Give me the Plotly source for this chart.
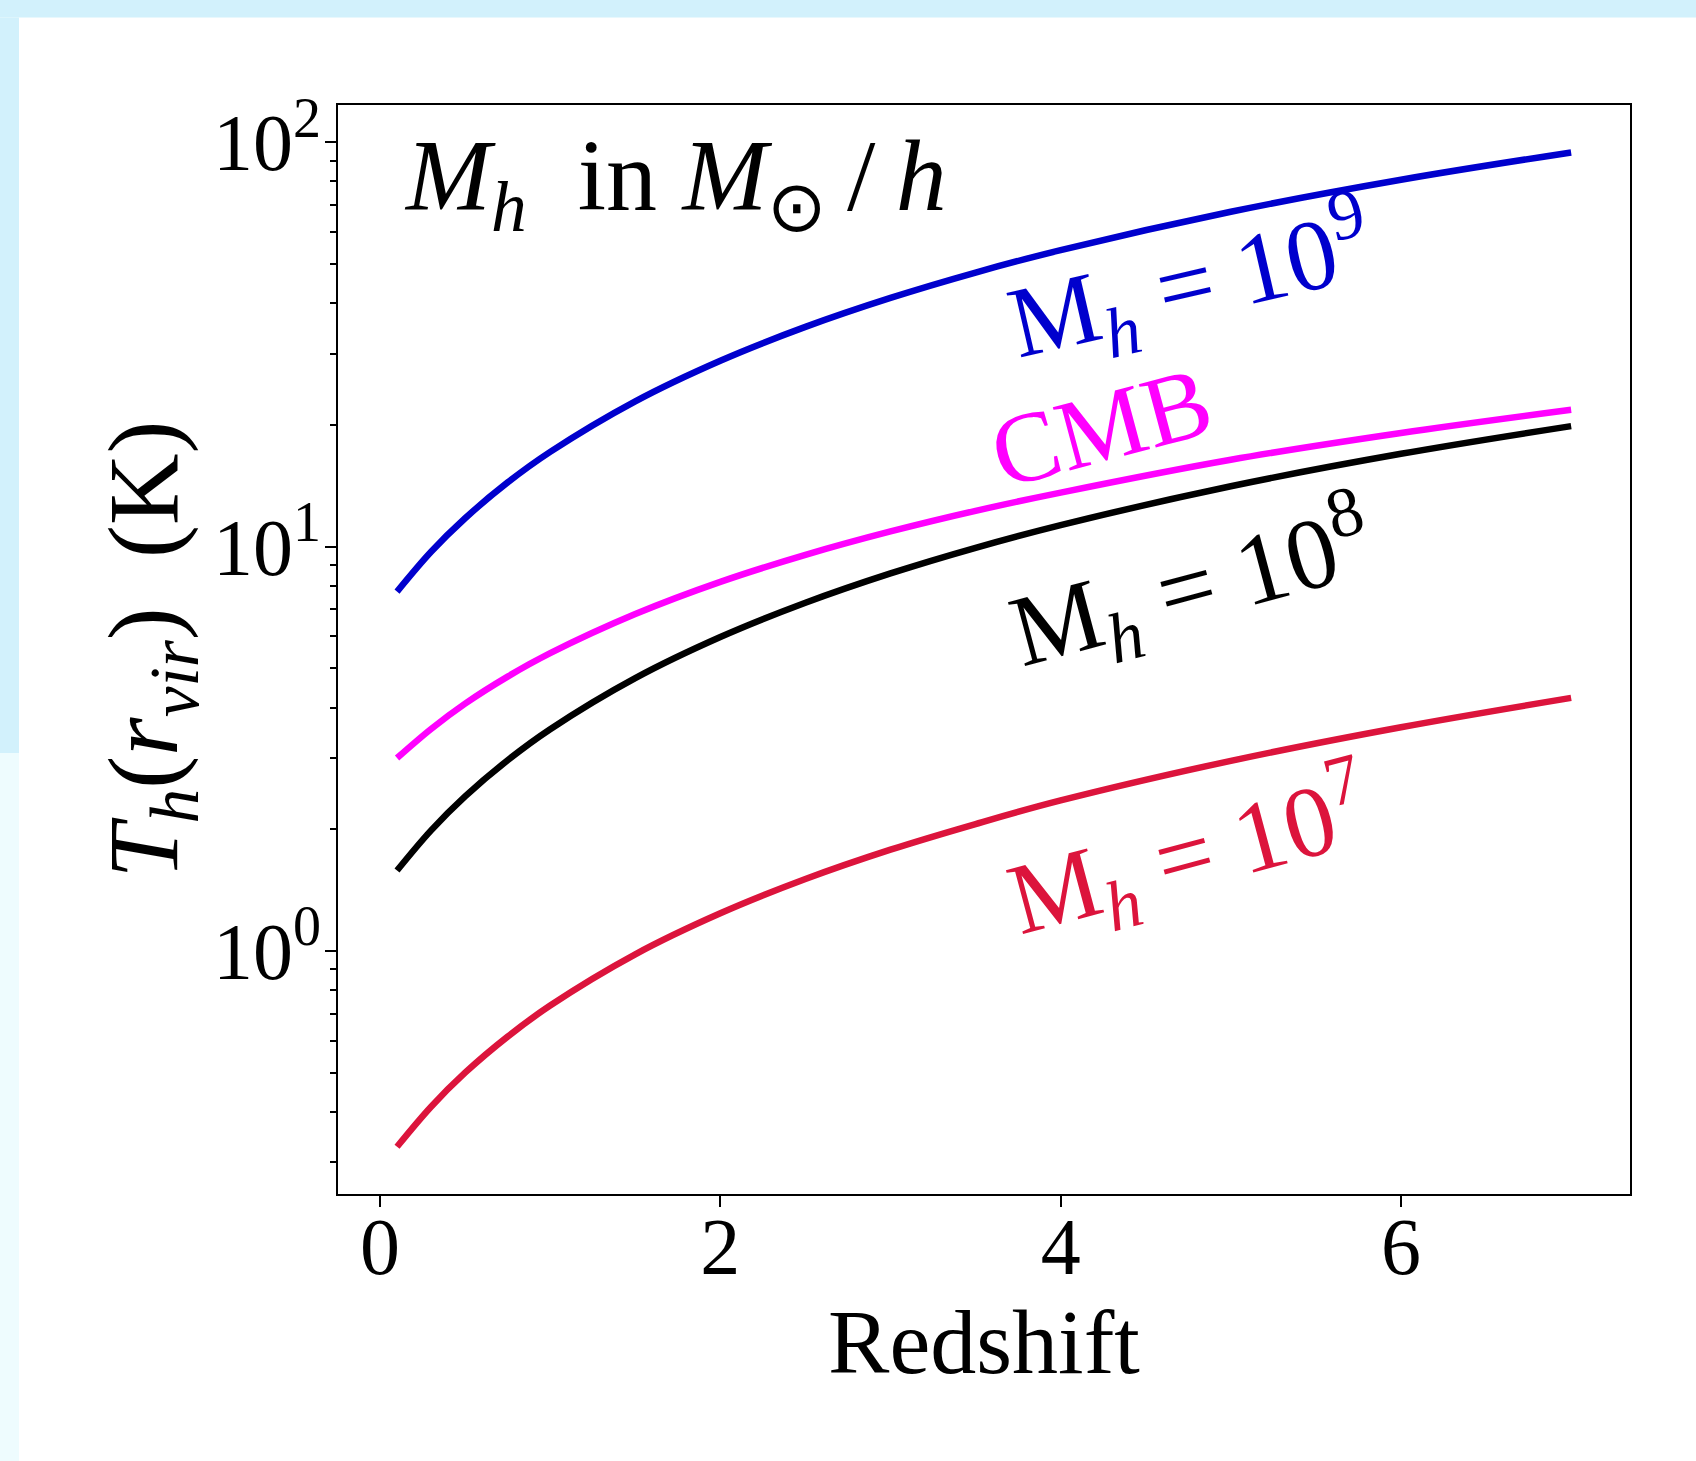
import plotly.graph_objects as go

# ---- data ----
redshift = [0.1, 0.3, 0.5, 0.75, 1.0, 1.5, 2.0, 2.5, 3.0, 3.5, 4.0, 5.0, 6.0, 7.0]
T_1e9 = [7.74, 9.71, 11.75, 14.41, 17.15, 22.87, 28.82, 34.94, 41.21, 47.61, 54.09, 67.30, 80.75, 94.35]
T_cmb = [3.0, 3.54, 4.09, 4.77, 5.45, 6.81, 8.18, 9.54, 10.9, 12.26, 13.6, 16.4, 19.1, 21.8]
T_1e8 = [1.581, 1.987, 2.411, 2.962, 3.534, 4.727, 5.973, 7.260, 8.581, 9.929, 11.30, 14.10, 16.96, 19.86]
T_1e7 = [0.328, 0.412, 0.500, 0.614, 0.733, 0.981, 1.239, 1.506, 1.780, 2.060, 2.356, 2.952, 3.575, 4.225]

x_ticks = [0, 2, 4, 6]
y_ticks = [1, 10, 100]
y_ticktext = ["10<sup>0</sup>", "10<sup>1</sup>", "10<sup>2</sup>"]
y_minor = [0.3, 0.4, 0.5, 0.6, 0.7, 0.8, 0.9,
           2, 3, 4, 5, 6, 7, 8, 9,
           20, 30, 40, 50, 60, 70, 80, 90]

W, H = 1696, 1461
ML, MR, MT, MB = 338, 66, 105, 267
PW, PH = W - ML - MR, H - MT - MB


def px(xp):
    return (xp - ML) / PW


def py(yp):
    return (H - MB - yp) / PH


FONT = "Liberation Serif, Times New Roman, serif"
NB = "\u00a0"
TH = "\u2009"

fig = go.Figure()
series = [
    (T_1e9, "#0000CD"),
    (T_cmb, "#FF00FF"),
    (T_1e8, "#000000"),
    (T_1e7, "#DC143C"),
]
for vals, col in series:
    fig.add_trace(go.Scatter(x=redshift, y=vals, mode="lines",
                             line=dict(color=col, width=6.5, shape="spline", smoothing=1.0),
                             showlegend=False, hoverinfo="skip"))

lab = "M<sub><i>h</i></sub>" + NB + "=" + NB + "10<sup>{}</sup>"
annotations = [
    dict(text="<i>M</i><sub><i>h</i></sub>" + NB + " in <i>M</i><sub>⊙</sub>" + TH + "/" + TH + "<i>h</i>",
         x=px(402), y=py(183), xanchor="left", yanchor="middle",
         font=dict(size=102, color="black"), textangle=0),
    dict(text=lab.format(9), x=px(1190), y=py(283),
         font=dict(size=101, color="#0000CD"), textangle=-13),
    dict(text="CMB", x=px(1101), y=py(427),
         font=dict(size=100, color="#FF00FF"), textangle=-15),
    dict(text=lab.format(8), x=px(1191), y=py(586),
         font=dict(size=101, color="#000000"), textangle=-15),
    dict(text=lab.format(7), x=px(1189), y=py(854),
         font=dict(size=101, color="#DC143C"), textangle=-15),
]
for a in annotations:
    a.update(xref="paper", yref="paper", showarrow=False)
    a.setdefault("xanchor", "center")
    a.setdefault("yanchor", "middle")
    a["font"]["family"] = FONT

shapes = [
    dict(type="rect", xref="paper", yref="paper", x0=px(0), x1=px(W), y0=py(17.5), y1=py(0),
         fillcolor="#D2F1FC", line=dict(width=0), layer="below"),
    dict(type="rect", xref="paper", yref="paper", x0=px(0), x1=px(19), y0=py(753), y1=py(17.5),
         fillcolor="#D2F1FC", line=dict(width=0), layer="below"),
    dict(type="rect", xref="paper", yref="paper", x0=px(0), x1=px(19), y0=py(H), y1=py(753),
         fillcolor="#EEFCFE", line=dict(width=0), layer="below"),
]

fig.update_layout(
    width=W, height=H,
    margin=dict(l=ML, r=MR, t=MT, b=MB, autoexpand=False),
    paper_bgcolor="white", plot_bgcolor="white",
    font=dict(family=FONT, color="black"),
    annotations=annotations, shapes=shapes,
)
fig.update_xaxes(
    range=[-0.247, 7.346], tickvals=x_ticks, ticks="outside", ticklen=11, tickwidth=1.5,
    tickcolor="black", showline=True, linewidth=2, linecolor="black", mirror=True,
    showgrid=False, zeroline=False, tickfont=dict(size=80, family=FONT),
    ticklabelstandoff=-29,
    title=dict(text="Redshift", font=dict(size=92, family=FONT), standoff=0),
    automargin=False,
)
fig.update_yaxes(
    type="log", range=[-0.601, 2.092], tickvals=y_ticks, ticktext=y_ticktext,
    ticks="outside", ticklen=11, tickwidth=2, tickcolor="black",
    minor=dict(tickvals=y_minor, ticks="outside", ticklen=6, tickwidth=1.5, tickcolor="black"),
    showline=True, linewidth=2, linecolor="black", mirror=True,
    showgrid=False, zeroline=False, tickfont=dict(size=80, family=FONT),
    ticklabelstandoff=-12,
    title=dict(text="<i>T</i><sub><i>h</i></sub>(<i>r</i><sub><i>vir</i></sub>)" + NB + NB + "(K)",
               font=dict(size=99, family=FONT), standoff=0),
    automargin=False,
)

fig.write_html("out.html")
